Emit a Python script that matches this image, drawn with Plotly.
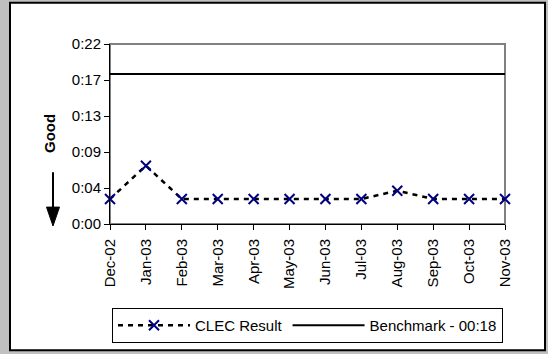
import plotly.graph_objects as go

months = ["Dec-02", "Jan-03", "Feb-03", "Mar-03", "Apr-03", "May-03",
          "Jun-03", "Jul-03", "Aug-03", "Sep-03", "Oct-03", "Nov-03"]
clec_minutes = [3, 7, 3, 3, 3, 3, 3, 3, 4, 3, 3, 3]
benchmark_minutes = [18] * 12
y_tick_vals = [0, 4.32, 8.64, 12.96, 17.28, 21.6]
y_tick_text = ["0:00", "0:04", "0:09", "0:13", "0:17", "0:22"]

W, H = 548, 354
L, R, T, B = 110, 43, 44, 129
pw, ph = W - L - R, H - T - B

def px(x):
    return (x - L) / pw

def py(y):
    return (H - B - y) / ph

FONT = "Liberation Sans, Arial, sans-serif"

fig = go.Figure()
fig.add_trace(go.Scatter(
    x=list(range(len(months))), y=clec_minutes, name="CLEC Result",
    mode="lines+markers",
    line=dict(color="black", width=2.5, dash="5px,5px"),
    marker=dict(symbol="x-thin", size=10, color="#000080",
                line=dict(color="#000080", width=2)),
    cliponaxis=False,
))
fig.add_trace(go.Scatter(
    x=list(range(len(months))), y=benchmark_minutes, name="Benchmark - 00:18",
    mode="lines", line=dict(color="black", width=1.8),
    cliponaxis=False,
))

shapes = [
    dict(type="rect", xref="paper", yref="paper",
         x0=px(10), x1=px(545), y0=py(352), y1=py(2.5),
         line=dict(color="black", width=2), fillcolor="white", layer="below"),
    dict(type="rect", xref="paper", yref="paper", x0=0, x1=1, y0=0, y1=1,
         line=dict(color="#808080", width=2), layer="below"),
    dict(type="line", xref="paper", yref="paper",
         x0=px(53), x1=px(53), y0=py(173), y1=py(212),
         line=dict(color="black", width=2)),
    dict(type="path", xref="paper", yref="paper",
         path=f"M {px(46.5)} {py(208)} L {px(59.5)} {py(208)} L {px(53)} {py(227)} Z",
         fillcolor="black", line=dict(color="black", width=1)),
]

fig.update_layout(
    width=W, height=H,
    margin=dict(l=L, r=R, t=T, b=B),
    paper_bgcolor="#c0c0c0", plot_bgcolor="white",
    font=dict(family=FONT, size=14, color="black"),
    showlegend=True,
    legend=dict(orientation="h", x=0.5, xanchor="center", y=py(308), yanchor="top",
                bordercolor="black", borderwidth=1, bgcolor="white",
                font=dict(size=15), itemwidth=72, tracegroupgap=0),
    shapes=shapes,
    annotations=[dict(text="<b>Good</b>", xref="paper", yref="paper",
                      x=px(39), y=py(134), textangle=-90, showarrow=False,
                      font=dict(size=15, family=FONT))],
    xaxis=dict(range=[0, 11], tickmode="array", tickvals=list(range(len(months))),
               ticktext=months, tickangle=-90, ticks="outside", ticklen=5,
               tickcolor="black", showline=True, linecolor="black", linewidth=1,
               showgrid=False, zeroline=False, tickfont=dict(size=15),
               ticklabelstandoff=3),
    yaxis=dict(range=[0, 21.6], tickmode="array", tickvals=y_tick_vals,
               ticktext=y_tick_text, ticks="outside", ticklen=5, tickcolor="black",
               showline=True, linecolor="black", linewidth=1, showgrid=False,
               zeroline=False, tickfont=dict(size=15)),
)

fig.write_html(
    "out.html",
    config={"displayModeBar": False},
    post_script="document.body.style.margin='0';document.body.style.overflow='hidden';",
)
